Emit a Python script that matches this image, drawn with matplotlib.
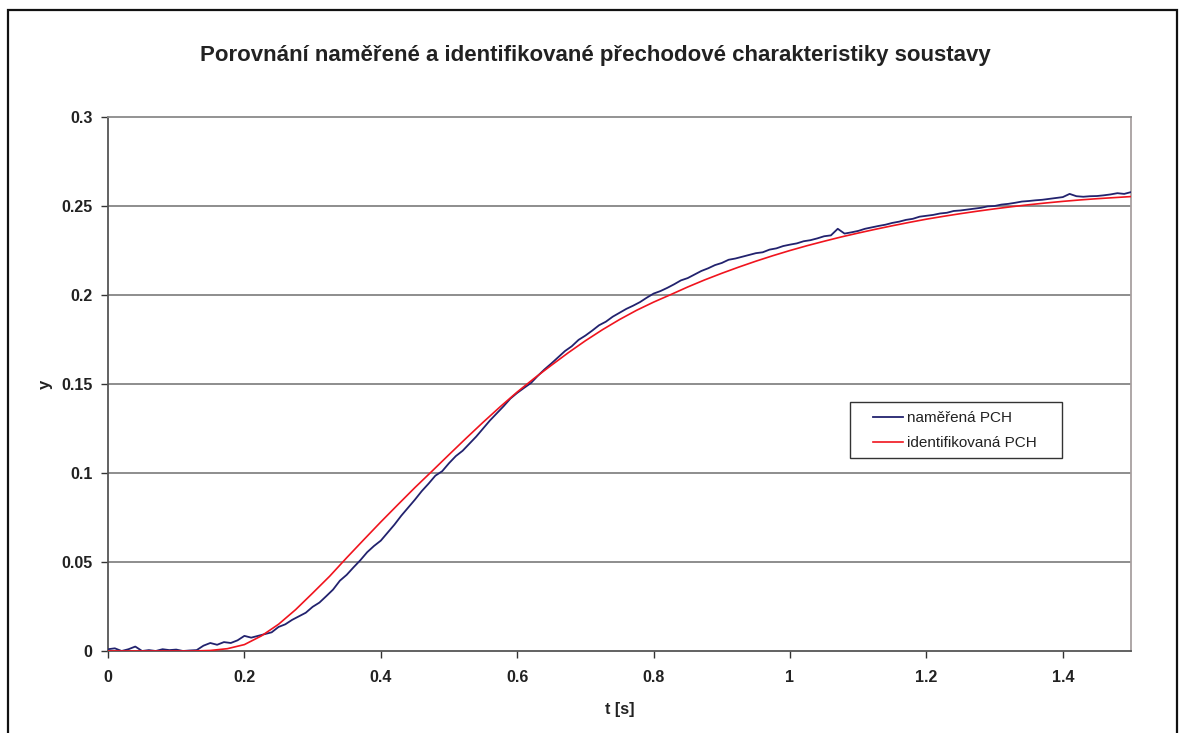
import numpy as np
import matplotlib
matplotlib.use("Agg")
import matplotlib.pyplot as plt
from matplotlib.patches import Rectangle
from matplotlib.ticker import FuncFormatter

plt.rcParams['font.family'] = ['Liberation Sans', 'DejaVu Sans']

title = "Porovnání naměřené a identifikované přechodové charakteristiky soustavy"
x_label = "t [s]"
y_label = "y"
series_names = ["naměřená PCH", "identifikovaná PCH"]

# measured step response (sampled every 0.01 s)
t_meas_step = 0.01
y_meas = [
    0.0010, 0.0015, 0.0000, 0.0010, 0.0025, 0.0000, 0.0005, 0.0000, 0.0010, 0.0005,
    0.0008, 0.0000, 0.0003, 0.0005, 0.0030, 0.0045, 0.0035, 0.0050, 0.0045, 0.0060,
    0.0085, 0.0075, 0.0085, 0.0095, 0.0105, 0.0135, 0.0150, 0.0175, 0.0195, 0.0215,
    0.0248, 0.0272, 0.0308, 0.0345, 0.0395, 0.0428, 0.0470, 0.0510, 0.0555, 0.0590,
    0.0620, 0.0665, 0.0710, 0.0760, 0.0805, 0.0850, 0.0898, 0.0940, 0.0985, 0.1010,
    0.1055, 0.1095, 0.1125, 0.1165, 0.1205, 0.1250, 0.1295, 0.1335, 0.1375, 0.1418,
    0.1450, 0.1478, 0.1505, 0.1545, 0.1582, 0.1615, 0.1650, 0.1685, 0.1712, 0.1748,
    0.1772, 0.1800, 0.1830, 0.1850, 0.1878, 0.1900, 0.1922, 0.1940, 0.1960, 0.1985,
    0.2008, 0.2022, 0.2040, 0.2060, 0.2082, 0.2095, 0.2115, 0.2135, 0.2150, 0.2168,
    0.2180, 0.2198, 0.2205, 0.2215, 0.2225, 0.2235, 0.2240, 0.2255, 0.2262, 0.2275,
    0.2283, 0.2290, 0.2302, 0.2308, 0.2318, 0.2330, 0.2335, 0.2372, 0.2345, 0.2352,
    0.2360, 0.2372, 0.2380, 0.2388, 0.2395, 0.2405, 0.2412, 0.2422, 0.2428, 0.2440,
    0.2445, 0.2450, 0.2458, 0.2462, 0.2472, 0.2475, 0.2480, 0.2485, 0.2490, 0.2498,
    0.2500, 0.2508, 0.2512, 0.2518, 0.2525, 0.2528, 0.2532, 0.2535, 0.2540, 0.2545,
    0.2550, 0.2568, 0.2555, 0.2552, 0.2555, 0.2556, 0.2560, 0.2565, 0.2572, 0.2568,
    0.2578,
]

# identified model step response (every 0.025 s)
t_ident_step = 0.025
y_ident = [
    0.0000, 0.0000, 0.0000, 0.0000, 0.0000, 0.0000, 0.0003, 0.0013, 0.0036, 0.0085,
    0.0150, 0.0232, 0.0325, 0.0420, 0.0524, 0.0625, 0.0725, 0.0822, 0.0918, 0.1010,
    0.1103, 0.1195, 0.1285, 0.1372, 0.1455, 0.1532, 0.1605, 0.1676, 0.1743, 0.1805,
    0.1862, 0.1914, 0.1960, 0.2002, 0.2045, 0.2085, 0.2122, 0.2157, 0.2190, 0.2221,
    0.2250, 0.2277, 0.2302, 0.2326, 0.2348, 0.2369, 0.2389, 0.2408, 0.2426, 0.2442,
    0.2457, 0.2471, 0.2484, 0.2496, 0.2507, 0.2517, 0.2526, 0.2534, 0.2541, 0.2547,
    0.2553,
]

x_ticks = [0, 0.2, 0.4, 0.6, 0.8, 1.0, 1.2, 1.4]
y_ticks = [0, 0.05, 0.1, 0.15, 0.2, 0.25, 0.3]

t_meas = np.arange(len(y_meas)) * t_meas_step
t_ident = np.arange(len(y_ident)) * t_ident_step

W, H = 1180, 733
fig = plt.figure(figsize=(W / 100, H / 100), dpi=100)
fig.patch.set_facecolor('white')
ax = fig.add_axes([108 / W, 1 - 651 / H, (1131 - 108) / W, (651 - 117) / H])

for yv in y_ticks[1:-1]:
    ax.axhline(yv, color='#858585', lw=1.3, zorder=1)

ax.plot(t_meas, y_meas, color='#22226E', lw=1.3, label=series_names[0], zorder=3)
ax.plot(t_ident, y_ident, color='#F0141E', lw=1.2, label=series_names[1], zorder=4)

ax.set_xlim(0, 1.5)
ax.set_ylim(0, 0.3)
ax.set_xticks(x_ticks)
ax.set_yticks(y_ticks)
fmt = FuncFormatter(lambda v, p: f"{v:g}")
ax.xaxis.set_major_formatter(fmt)
ax.yaxis.set_major_formatter(fmt)
ax.tick_params(axis='both', direction='out', length=5, width=1, color='#333333',
               labelsize=11.5, pad=6)
for lab in ax.get_xticklabels() + ax.get_yticklabels():
    lab.set_fontweight('bold')
    lab.set_color('#222222')
ax.tick_params(axis='x', pad=9)

ax.spines['left'].set_color('#555555')
ax.spines['bottom'].set_color('#555555')
ax.spines['top'].set_color('#8a8a8a')
ax.spines['right'].set_color('#a8a0a0')
for s in ax.spines.values():
    s.set_linewidth(1.3)

ax.set_xlabel(x_label, fontsize=11.5, fontweight='bold', color='#222222', labelpad=12)
ax.set_ylabel(y_label, fontsize=12, fontweight='bold', color='#222222')
ax.yaxis.set_label_coords((53 - 108) / 1023, (651 - 384) / 534)

# legend frame (opaque box) and frameless legend content
frame = Rectangle((850 / W, 1 - 458 / H), 212 / W, 56 / H, transform=fig.transFigure,
                  facecolor='white', edgecolor='#333333', lw=1.0, zorder=5)
ax.add_patch(frame)
leg = ax.legend(loc='upper left', bbox_to_anchor=(873 / W, 1 - 411 / H),
                bbox_transform=fig.transFigure,
                frameon=False, fontsize=11, handlelength=1.95,
                handletextpad=0.28, borderpad=0, labelspacing=0.72, borderaxespad=0)
leg.set_zorder(6)
for txt in leg.get_texts():
    txt.set_color('#222222')

fig.text(595 / W, 1 - 55 / H, title, ha='center', va='center', fontsize=16,
         fontweight='bold', color='#222222')

fig.patches.append(Rectangle((8 / W, -0.05), (1177 - 8) / W, 1.05 - 10 / H,
                             transform=fig.transFigure, fill=False,
                             edgecolor='#111111', lw=1.6))

fig.savefig('out.png', dpi=100, facecolor='white')
